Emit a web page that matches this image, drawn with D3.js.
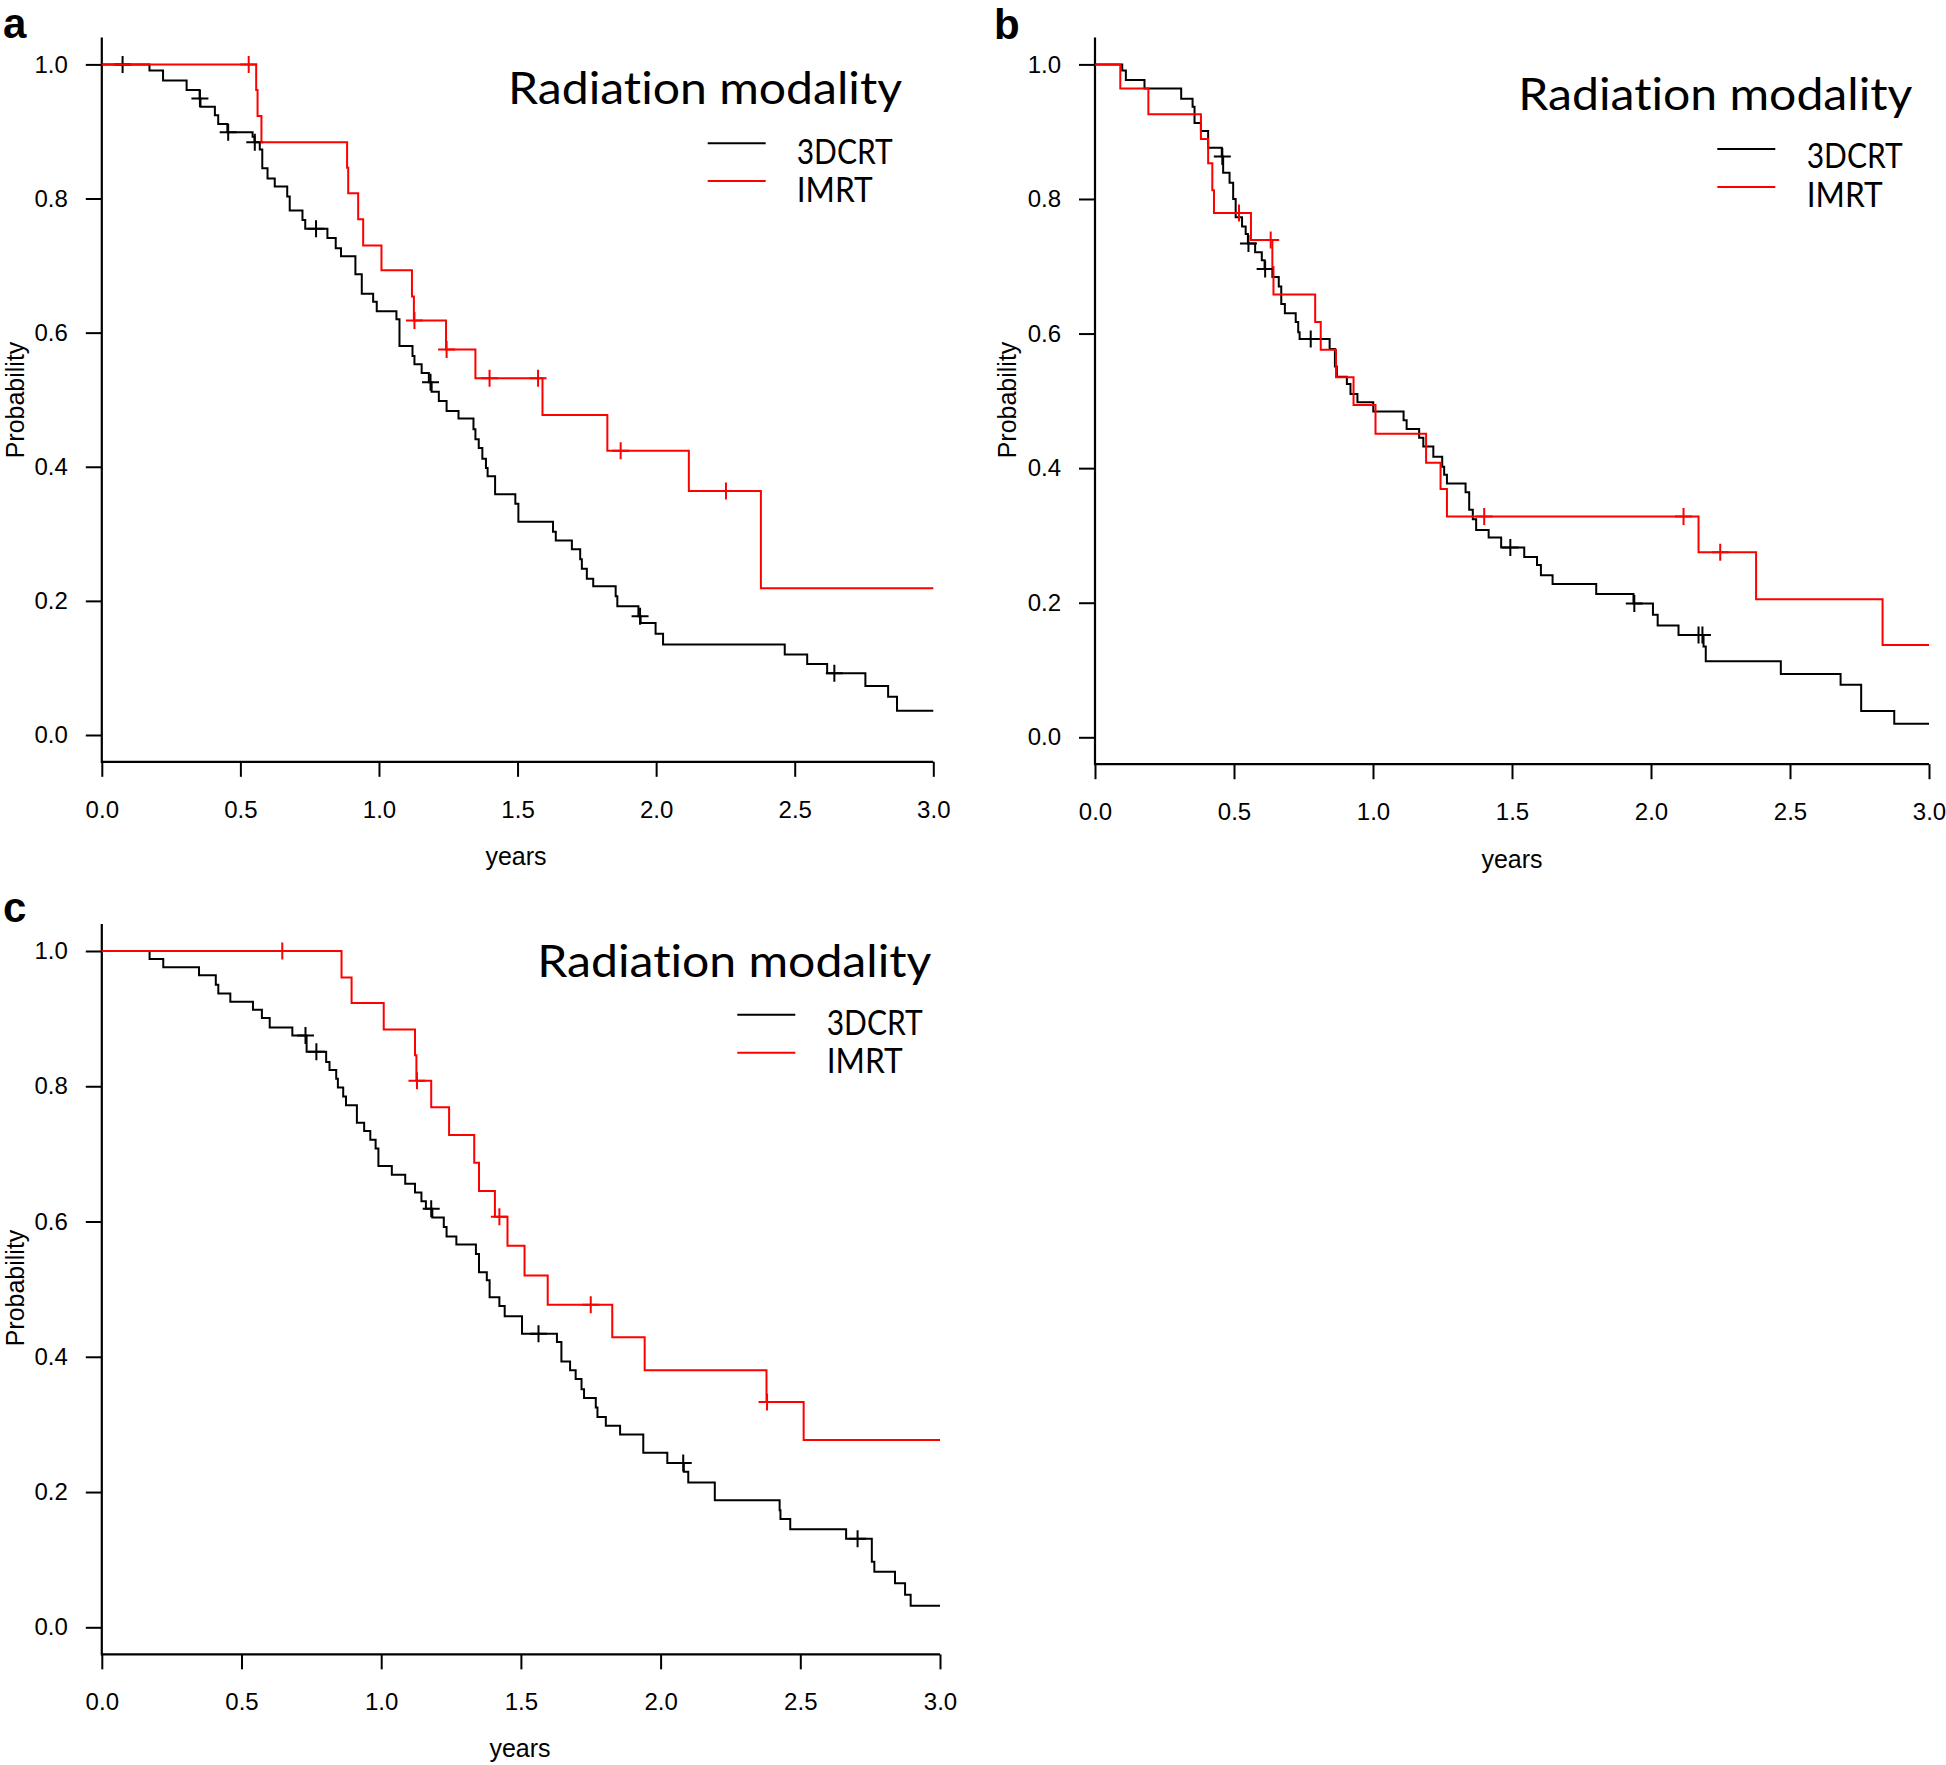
<!DOCTYPE html>
<html><head><meta charset="utf-8">
<script src="https://cdn.jsdelivr.net/npm/d3@7"></script>
<style>body{margin:0;background:#fff}svg{display:block}text{font-variant-ligatures:none;font-feature-settings:"liga" 0,"clig" 0}</style>
</head><body>
<svg id="chart" width="1946" height="1765"></svg>
<script>
// ---------- data ----------
const xTicks = [0, 0.5, 1, 1.5, 2, 2.5, 3];
const xTickLabels = ["0.0", "0.5", "1.0", "1.5", "2.0", "2.5", "3.0"];
const yTicks = [0, 0.2, 0.4, 0.6, 0.8, 1.0];
const yTickLabels = ["0.0", "0.2", "0.4", "0.6", "0.8", "1.0"];
const seriesNames = ["3DCRT", "IMRT"];
const seriesColors = ["#000000", "#ff0000"];
const panelLetters = ["a", "b", "c"];
const legendTitle = "Radiation modality";
const xLabel = "years";
const yLabel = "Probability";
const xMax = 3;

// step points [time, survival after drop]
const a3dcrt = [[0.172,0.991],[0.221,0.976],[0.306,0.962],[0.353,0.949],[0.356,0.937],[0.408,0.924],[0.420,0.911],[0.453,0.899],[0.544,0.892],[0.551,0.884],[0.570,0.873],[0.579,0.845],[0.598,0.830],[0.624,0.818],[0.669,0.803],[0.678,0.782],[0.724,0.768],[0.734,0.755],[0.814,0.741],[0.844,0.726],[0.863,0.714],[0.915,0.687],[0.938,0.658],[0.979,0.646],[0.992,0.632],[1.063,0.620],[1.074,0.580],[1.121,0.565],[1.128,0.553],[1.154,0.540],[1.180,0.526],[1.190,0.512],[1.216,0.498],[1.244,0.483],[1.287,0.472],[1.341,0.456],[1.348,0.441],[1.360,0.428],[1.373,0.412],[1.386,0.398],[1.392,0.386],[1.419,0.359],[1.492,0.345],[1.503,0.318],[1.628,0.303],[1.638,0.290],[1.696,0.277],[1.726,0.262],[1.732,0.248],[1.750,0.233],[1.773,0.222],[1.854,0.207],[1.860,0.192],[1.936,0.177],[1.944,0.167],[1.998,0.151],[2.025,0.135],[2.464,0.120],[2.545,0.106],[2.617,0.092],[2.755,0.073],[2.837,0.057],[2.869,0.036]];
const a3dcrtCensor = [0.075, 0.354, 0.456, 0.552, 0.773, 1.186, 1.942, 2.643];
const aImrt = [[0.557,0.962],[0.562,0.923],[0.576,0.884],[0.885,0.846],[0.889,0.808],[0.925,0.769],[0.943,0.730],[1.009,0.693],[1.119,0.654],[1.126,0.618],[1.242,0.575],[1.348,0.532],[1.590,0.477],[1.824,0.424],[2.118,0.364],[2.378,0.219]];
const aImrtCensor = [0.530, 1.128, 1.244, 1.399, 1.574, 1.872, 2.252];

const b3dcrt = [[0.098,0.991],[0.111,0.977],[0.178,0.964],[0.310,0.949],[0.351,0.937],[0.358,0.913],[0.381,0.901],[0.407,0.876],[0.456,0.863],[0.461,0.839],[0.484,0.824],[0.497,0.800],[0.506,0.773],[0.529,0.759],[0.542,0.748],[0.550,0.734],[0.576,0.721],[0.600,0.709],[0.610,0.696],[0.638,0.684],[0.661,0.670],[0.670,0.644],[0.683,0.630],[0.722,0.617],[0.731,0.602],[0.736,0.592],[0.844,0.577],[0.863,0.551],[0.870,0.536],[0.906,0.525],[0.919,0.510],[0.944,0.498],[1.001,0.484],[1.110,0.471],[1.121,0.458],[1.166,0.445],[1.181,0.432],[1.217,0.417],[1.249,0.402],[1.256,0.390],[1.266,0.377],[1.333,0.364],[1.346,0.338],[1.359,0.324],[1.371,0.308],[1.416,0.297],[1.461,0.282],[1.544,0.268],[1.590,0.256],[1.604,0.241],[1.646,0.228],[1.803,0.213],[1.937,0.199],[2.007,0.182],[2.024,0.166],[2.099,0.152],[2.189,0.135],[2.197,0.113],[2.467,0.094],[2.682,0.078],[2.756,0.039],[2.875,0.020]];
const b3dcrtCensor = [0.458, 0.552, 0.612, 0.776, 1.494, 1.940, 2.171, 2.185];
const bImrt = [[0.091,0.964],[0.192,0.926],[0.381,0.889],[0.407,0.853],[0.422,0.813],[0.428,0.779],[0.561,0.739],[0.638,0.699],[0.642,0.658],[0.792,0.617],[0.812,0.576],[0.867,0.535],[0.930,0.494],[1.009,0.451],[1.191,0.408],[1.243,0.369],[1.266,0.328],[2.171,0.275],[2.378,0.205],[2.833,0.137]];
const bImrtCensor = [0.518, 0.632, 1.400, 2.117, 2.249];

const c3dcrt = [[0.171,0.988],[0.220,0.976],[0.348,0.964],[0.408,0.950],[0.417,0.937],[0.460,0.925],[0.541,0.913],[0.573,0.901],[0.601,0.887],[0.682,0.875],[0.733,0.851],[0.803,0.836],[0.815,0.824],[0.839,0.811],[0.845,0.798],[0.864,0.785],[0.874,0.772],[0.913,0.746],[0.939,0.734],[0.961,0.721],[0.980,0.708],[0.990,0.682],[1.038,0.669],[1.086,0.656],[1.121,0.643],[1.144,0.630],[1.160,0.619],[1.183,0.606],[1.224,0.592],[1.234,0.578],[1.269,0.566],[1.339,0.552],[1.350,0.525],[1.378,0.513],[1.388,0.488],[1.423,0.475],[1.442,0.460],[1.504,0.434],[1.629,0.422],[1.645,0.393],[1.676,0.380],[1.696,0.367],[1.717,0.352],[1.726,0.339],[1.768,0.325],[1.774,0.311],[1.804,0.298],[1.855,0.285],[1.938,0.258],[2.024,0.243],[2.083,0.230],[2.099,0.214],[2.194,0.188],[2.426,0.173],[2.429,0.160],[2.464,0.145],[2.664,0.131],[2.756,0.097],[2.765,0.082],[2.839,0.065],[2.875,0.048],[2.895,0.032]];
const c3dcrtCensor = [0.729, 0.768, 1.179, 1.563, 2.081, 2.705];
const cImrt = [[0.858,0.961],[0.894,0.923],[1.009,0.884],[1.121,0.846],[1.126,0.808],[1.179,0.769],[1.243,0.728],[1.333,0.687],[1.350,0.645],[1.407,0.607],[1.452,0.564],[1.513,0.520],[1.596,0.477],[1.827,0.429],[1.943,0.380],[2.379,0.333],[2.512,0.277]];
const cImrtCensor = [0.646, 1.128, 1.423, 1.750, 2.381];

// ---------- layout ----------
const panels = [
  {series:[a3dcrt, aImrt], censors:[a3dcrtCensor, aImrtCensor],
   x0:101.8, x1:933.3, yTop:64.4, yBot:735.0,
   letter:[3, 38], title:[508, 104], legX:[707.7, 765.7], legY:[143.3, 181], legTX:796.7, legTY:[164, 202],
   prob:[24, 400], years:[516, 865]},
  {series:[b3dcrt, bImrt], censors:[b3dcrtCensor, bImrtCensor],
   x0:1095, x1:1929, yTop:64.4, yBot:737.3,
   letter:[994, 39], title:[1518.3, 110], legX:[1717.3, 1775.3], legY:[149, 187], legTX:1806.7, legTY:[168.3, 207.3],
   prob:[1016, 400], years:[1512, 868]},
  {series:[c3dcrt, cImrt], censors:[c3dcrtCensor, cImrtCensor],
   x0:101.8, x1:940, yTop:951, yBot:1627.3,
   letter:[3, 922], title:[537.3, 976.7], legX:[737.3, 795.3], legY:[1014.7, 1052.7], legTX:826.7, legTY:[1035, 1073.3],
   prob:[24, 1288], years:[520, 1757]}
];

const svg = d3.select("#chart");
const tickFont = "'Liberation Sans', Arial, sans-serif";
const legFont = "Lato, 'Open Sans', sans-serif";

function stepValue(pts, t) {
  let v = 1;
  for (const p of pts) { if (p[0] <= t) v = p[1]; else break; }
  return v;
}

panels.forEach((P, pi) => {
  const g = svg.append("g");
  const x = d3.scaleLinear().domain([0, xMax]).range([P.x0, P.x1]);
  const y = d3.scaleLinear().domain([0, 1]).range([P.yBot, P.yTop]);
  const yLow = y(-0.04), yHigh = y(1.04);

  const ya = g.append("g").attr("transform", `translate(${P.x0},0)`)
    .call(d3.axisLeft(y).tickValues(yTicks).tickFormat((d, i) => yTickLabels[i]).tickSize(16).tickPadding(18));
  ya.select(".domain").remove();
  ya.selectAll("line").attr("stroke", "#000").attr("stroke-width", 2);
  ya.selectAll("text").attr("font-family", tickFont).attr("font-size", 24).attr("fill", "#000");

  const xa = g.append("g").attr("transform", `translate(0,${yLow})`)
    .call(d3.axisBottom(x).tickValues(xTicks).tickFormat((d, i) => xTickLabels[i]).tickSize(15).tickPadding(24));
  xa.select(".domain").remove();
  xa.selectAll("line").attr("stroke", "#000").attr("stroke-width", 2);
  xa.selectAll("text").attr("font-family", tickFont).attr("font-size", 24).attr("fill", "#000");

  g.append("path")
    .attr("d", `M${P.x0},${yHigh}V${yLow}H${x(xMax)}`)
    .attr("fill", "none").attr("stroke", "#000").attr("stroke-width", 2.2);

  const line = d3.line().x(d => x(d[0])).y(d => y(d[1])).curve(d3.curveStepAfter);
  P.series.forEach((pts, si) => {
    const full = [[0, 1], ...pts, [xMax, pts[pts.length - 1][1]]];
    g.append("path").datum(full).attr("d", line)
      .attr("fill", "none").attr("stroke", seriesColors[si]).attr("stroke-width", 2)
      .attr("stroke-linejoin", "miter");
    const cs = P.censors[si];
    g.selectAll(null).data(cs).enter().append("path")
      .attr("d", t => {
        const cx = x(t), cy = y(stepValue(pts, t)), h = 8.5;
        return `M${cx - h},${cy}H${cx + h}M${cx},${cy - h}V${cy + h}`;
      })
      .attr("stroke", seriesColors[si]).attr("stroke-width", 2).attr("fill", "none");
  });

  g.append("text").attr("x", P.years[0]).attr("y", P.years[1]).attr("text-anchor", "middle")
    .attr("font-family", tickFont).attr("font-size", 25).text(xLabel);
  g.append("text").attr("transform", `translate(${P.prob[0]},${P.prob[1]}) rotate(-90)`).attr("text-anchor", "middle")
    .attr("font-family", tickFont).attr("font-size", 25).text(yLabel);
  g.append("text").attr("x", P.letter[0]).attr("y", P.letter[1])
    .attr("font-family", tickFont).attr("font-weight", "bold").attr("font-size", 42).text(panelLetters[pi]);

  g.append("text").attr("x", P.title[0]).attr("y", P.title[1])
    .attr("font-family", legFont).attr("font-size", 45)
    .style("font-variant-ligatures", "none")
    .attr("textLength", 394).attr("lengthAdjust", "spacingAndGlyphs").text(legendTitle);
  seriesNames.forEach((nm, si) => {
    g.append("line").attr("x1", P.legX[0]).attr("x2", P.legX[1]).attr("y1", P.legY[si]).attr("y2", P.legY[si])
      .attr("stroke", seriesColors[si]).attr("stroke-width", 2);
    g.append("text").attr("x", P.legTX).attr("y", P.legTY[si])
      .attr("font-family", legFont).attr("font-size", 34)
      .attr("textLength", si === 0 ? 96 : 76).attr("lengthAdjust", "spacingAndGlyphs").text(nm);
  });
});
</script>
</body></html>
